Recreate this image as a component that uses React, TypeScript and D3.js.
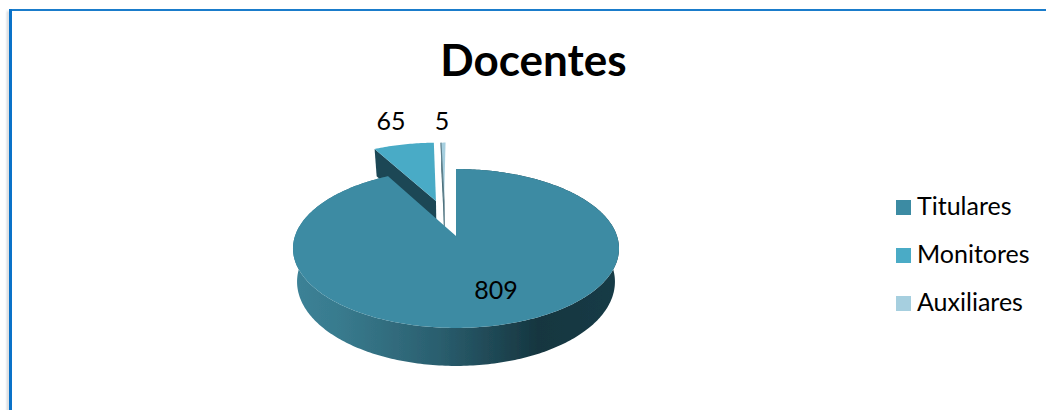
import React from "react";
import * as d3 from "d3";

const categories = ["Titulares", "Monitores", "Auxiliares"];
const values = [809, 65, 5];
const topColors = ["#3c8ba3", "#4aabc6", "#a6cfdf"];
const wallColors = ["url(#mainWall)", "#1c4755", "#3f6672"];

// layout (not data)
const W = 1046, H = 410;
const CX = 456, CY = 236, B = 161, A = 77.5, K = 0.157;
const explode = [[0, 0], [-0.134, 0.486], [-0.08, 0.486]];
const labelPos = [[496, 299], [391, 130], [442, 130]];
const font = "Lato, 'Open Sans', sans-serif";

type P = [number, number];
const project = (u: number, v: number): P => {
  const w = 1 + K * v;
  return [CX + (B * u) / w, CY - (A * v) / w];
};
const lower = ([x, y]: P): P => [CX + (x - CX) * 0.975, y + 38 - (328 - y) * 0.06];
const line = d3.line<P>().curve(d3.curveLinear);

const arcs = d3.pie<number>().sort(null).value((d) => d)(values);

export default function App() {
  const slices = arcs.map((a, i) => {
    const [ox, oy] = explode[i];
    const n = Math.max(2, Math.ceil((a.endAngle - a.startAngle) * 60));
    const angles = d3.range(n + 1).map((j) => a.startAngle + ((a.endAngle - a.startAngle) * j) / n);
    const rim = angles.map((t) => project(ox + Math.sin(t), oy + Math.cos(t)));
    const apex = project(ox, oy);
    const top = line([apex, ...rim])! + "Z";
    const wall =
      i === 0
        ? line([...rim, ...rim.map(lower).reverse()])! + "Z"
        : line([rim[0], apex, lower(apex), lower(rim[0])])! + "Z";
    return { top, wall, rim, apex, i };
  });
  const aux = slices[2];

  return (
    <svg width={W} height={H} style={{ position: "absolute", left: 0, top: 0, display: "block" }}>
      <defs>
        <linearGradient id="mainWall" gradientUnits="userSpaceOnUse" x1={293} x2={619} y1={0} y2={0}>
          <stop offset="0" stopColor="#3c8297" />
          <stop offset="0.15" stopColor="#387a8d" />
          <stop offset="0.45" stopColor="#2a5e6e" />
          <stop offset="0.75" stopColor="#163640" />
          <stop offset="1" stopColor="#183b46" />
        </linearGradient>
        <filter id="edge" x="-5%" y="-5%" width="110%" height="110%">
          <feGaussianBlur stdDeviation="0.35" />
        </filter>
        <filter id="side" x="-400%" y="-10%" width="900%" height="120%">
          <feGaussianBlur stdDeviation="1.2" />
        </filter>
      </defs>
      <rect width={W} height={H} fill="#fff" />

      {/* frame */}
      <rect x={7} y={11} width={2} height={H} fill="#c9cdd2" filter="url(#side)" />
      <rect x={9} y={9} width={W} height={2} fill="#1a7ccb" />
      <rect x={9} y={9} width={3} height={H} fill="#0a72c8" />

      <text x={533.5} y={76} textAnchor="middle" fontFamily={font} fontWeight={700} fontSize={44} fill="#000">
        Docentes
      </text>

      {/* pie: exploded slices behind, main slice in front */}
      <g filter="url(#edge)">
        {[slices[2], slices[1], slices[0]].map((s) => (
          <g key={s.i}>
            <path d={s.wall} fill={wallColors[s.i]} />
            <path d={s.top} fill={topColors[s.i]} />
            {s.i === 2 && (
              <path
                d={line([aux.rim[0], aux.apex, lower(aux.apex)])!}
                fill="none"
                stroke="#5d7f8b"
                strokeWidth={1.2}
              />
            )}
          </g>
        ))}
      </g>

      {values.map((v, i) => (
        <text key={i} x={labelPos[i][0]} y={labelPos[i][1]} textAnchor="middle" fontFamily={font} fontSize={25} fill="#000">
          {v}
        </text>
      ))}

      {categories.map((c, i) => (
        <g key={c}>
          <rect x={896} y={200 + i * 48} width={15} height={15} fill={topColors[i]} />
          <text x={917} y={215 + i * 48} fontFamily={font} fontSize={25} fill="#000">
            {c}
          </text>
        </g>
      ))}
    </svg>
  );
}
